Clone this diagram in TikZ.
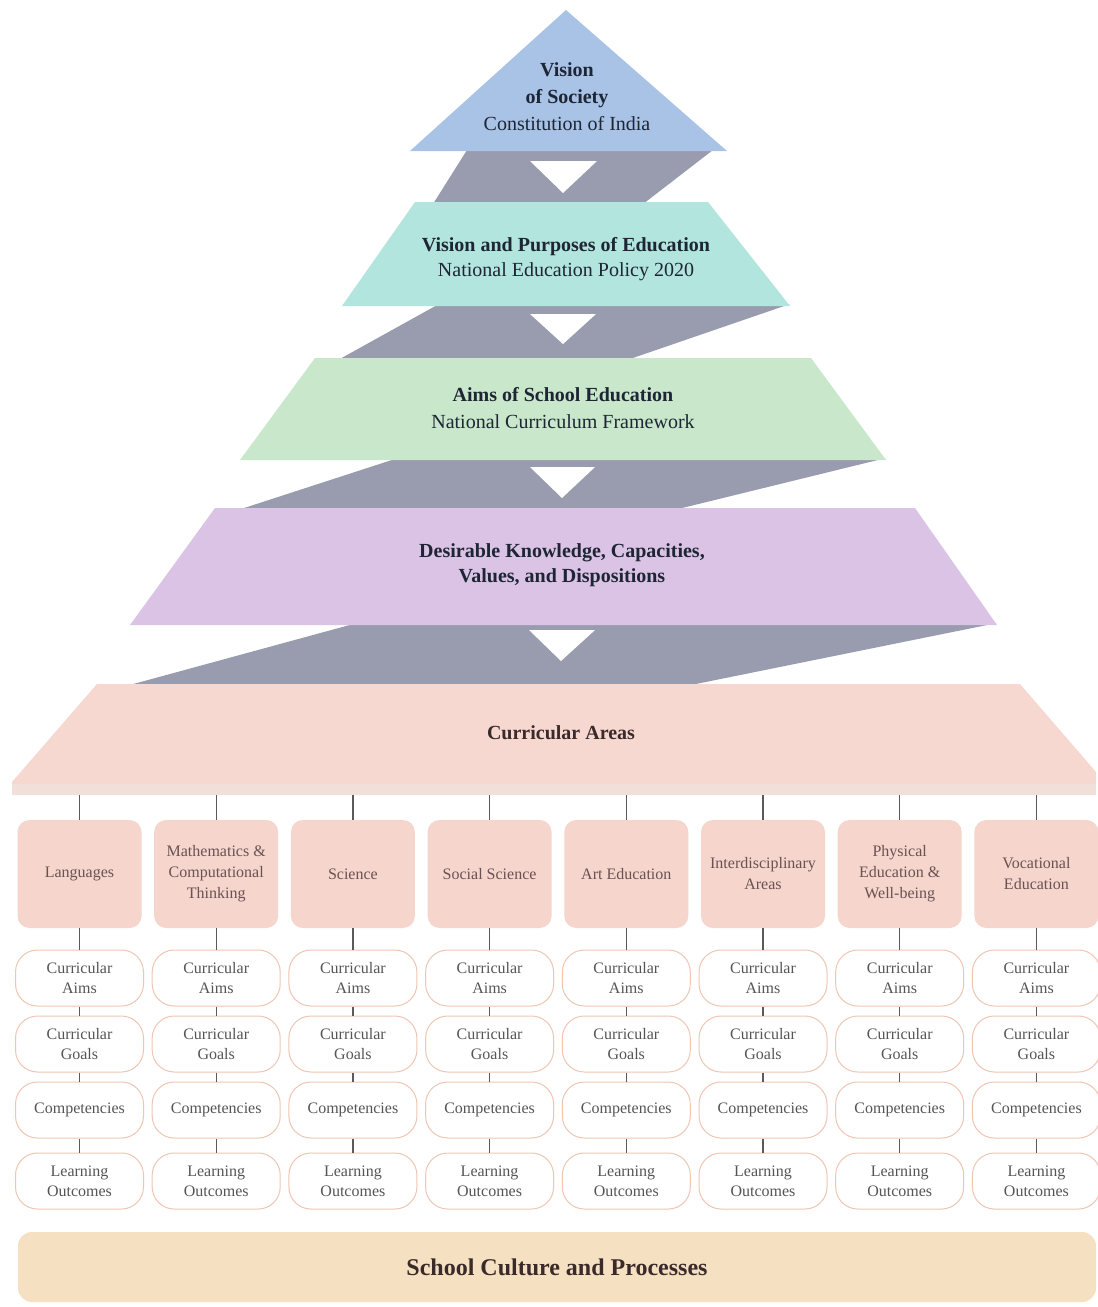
\documentclass[tikz,border=0pt]{standalone}
\usepackage{fontspec}
\setmainfont{Liberation Serif}
\definecolor{skyblue}{HTML}{A8C3E6}
\definecolor{aqua}{HTML}{B2E5DD}
\definecolor{mint}{HTML}{C8E7CB}
\definecolor{lilac}{HTML}{DAC3E5}
\definecolor{blush}{HTML}{F6D8D0}
\definecolor{blushedge}{HTML}{F1E0DA}
\definecolor{areapink}{HTML}{F5D5CC}
\definecolor{slate}{HTML}{999CAF}
\definecolor{sand}{HTML}{F6E0C2}
\definecolor{ovalline}{HTML}{EFC6B3}
\definecolor{textnavy}{HTML}{1E2535}
\definecolor{textbrown}{HTML}{3A2A2A}
\definecolor{areatext}{HTML}{6A5252}
\definecolor{ovaltext}{HTML}{555555}
\definecolor{linkgray}{HTML}{5A5A5A}
\begin{document}
\begin{tikzpicture}[x=1pt,y=-1pt,
  band/.style={fill=slate},
  notch/.style={fill=white},
  layertext/.style={align=center,text=textnavy,inner sep=0pt,font=\fontsize{20}{27}\selectfont},
  areabox/.style={rounded corners=12pt,fill=areapink,minimum width=124pt,minimum height=108pt,
    align=center,text=areatext,inner sep=2pt,font=\fontsize{16}{21}\selectfont},
  stagebox/.style={rounded corners=22pt,draw=ovalline,line width=1pt,fill=white,
    minimum width=128pt,minimum height=56pt,align=center,text=ovaltext,inner sep=0pt,
    font=\fontsize{16}{20}\selectfont},
  link/.style={draw=linkgray,line width=1.2pt},
]
% canvas
\fill[white] (0,0) rectangle (1098,1307);
\useasboundingbox (0,0) rectangle (1098,1307);

% slanted grey bands joining the layers
\fill[band] (467,150) -- (713,150) -- (643,204) -- (433,204) -- cycle;
\fill[band] (439,304) -- (790,304) -- (627,360) -- (338,360) -- cycle;
\fill[band] (398,458) -- (886,458) -- (674,510) -- (238,510) -- cycle;
\fill[band] (357,623) -- (997,623) -- (686,686) -- (126,686) -- cycle;

% pyramid layers
\fill[skyblue] (566,10) -- (727,151) -- (410,151) -- cycle;
\fill[aqua] (415,202) -- (708,202) -- (790,306) -- (342,306) -- cycle;
\fill[mint] (315,358) -- (811,358) -- (886,460) -- (240,460) -- cycle;
\fill[lilac] (215,508) -- (915,508) -- (997,625) -- (130,625) -- cycle;
\fill[blush] (97,684) -- (1020,684) -- (1096,772) -- (1096,795) -- (12,795) -- (12,782) -- cycle;
\fill[blushedge] (12,784) rectangle (1096,795);

% downward notches in the bands
\fill[notch] (530,161) -- (597,161) -- (563,193) -- cycle;
\fill[notch] (530,314) -- (596,314) -- (563,344) -- cycle;
\fill[notch] (530,467) -- (595,467) -- (562,498) -- cycle;
\fill[notch] (529,630) -- (595,630) -- (561,661) -- cycle;

% layer labels
\node[layertext] (society) at (567,97)
  {\textbf{Vision}\\\textbf{of Society}\\Constitution of India};
\node[layertext,font=\fontsize{20}{25}\selectfont] (purpose) at (566,259)
  {\textbf{Vision and Purposes of Education}\\National Education Policy 2020};
\node[layertext] (aims) at (563,408)
  {\textbf{Aims of School Education}\\National Curriculum Framework};
\node[layertext,font=\fontsize{20}{25}\selectfont] (values) at (562,565)
  {\textbf{Desirable Knowledge, Capacities,}\\\textbf{Values, and Dispositions}};
\node[layertext,text=textbrown] (areas) at (561,733) {\textbf{Curricular Areas}};

% curricular areas and their stages
\foreach \k/\name in {1/Languages,
    2/{Mathematics \&\\Computational\\Thinking},
    3/Science,
    4/Social Science,
    5/Art Education,
    6/{Interdisciplinary\\Areas},
    7/{Physical\\Education \&\\Well-being},
    8/{Vocational\\Education}} {
  \pgfmathsetmacro\cx{79.5+136.7*(\k-1)}
  \coordinate (tap\k) at (\cx,795);
  \node[areabox] (area\k) at (\cx,874) {\name};
  \node[stagebox] (aim\k) at (\cx,978) {Curricular\\Aims};
  \node[stagebox] (goal\k) at (\cx,1044) {Curricular\\Goals};
  \node[stagebox] (comp\k) at (\cx,1110) {Competencies};
  \node[stagebox] (outc\k) at (\cx,1181) {Learning\\Outcomes};
  \draw[link] (tap\k) -- (area\k);
  \draw[link] (area\k) -- (aim\k);
  \draw[link] (aim\k) -- (goal\k);
  \draw[link] (goal\k) -- (comp\k);
  \draw[link] (comp\k) -- (outc\k);
}

% foundation bar
\node[fill=sand,rounded corners=14pt,minimum width=1078pt,minimum height=70pt,
  inner sep=0pt,text=textbrown,font=\fontsize{24}{28}\selectfont\bfseries]
  (culture) at (557,1267) {School Culture and Processes};
\end{tikzpicture}
\end{document}
